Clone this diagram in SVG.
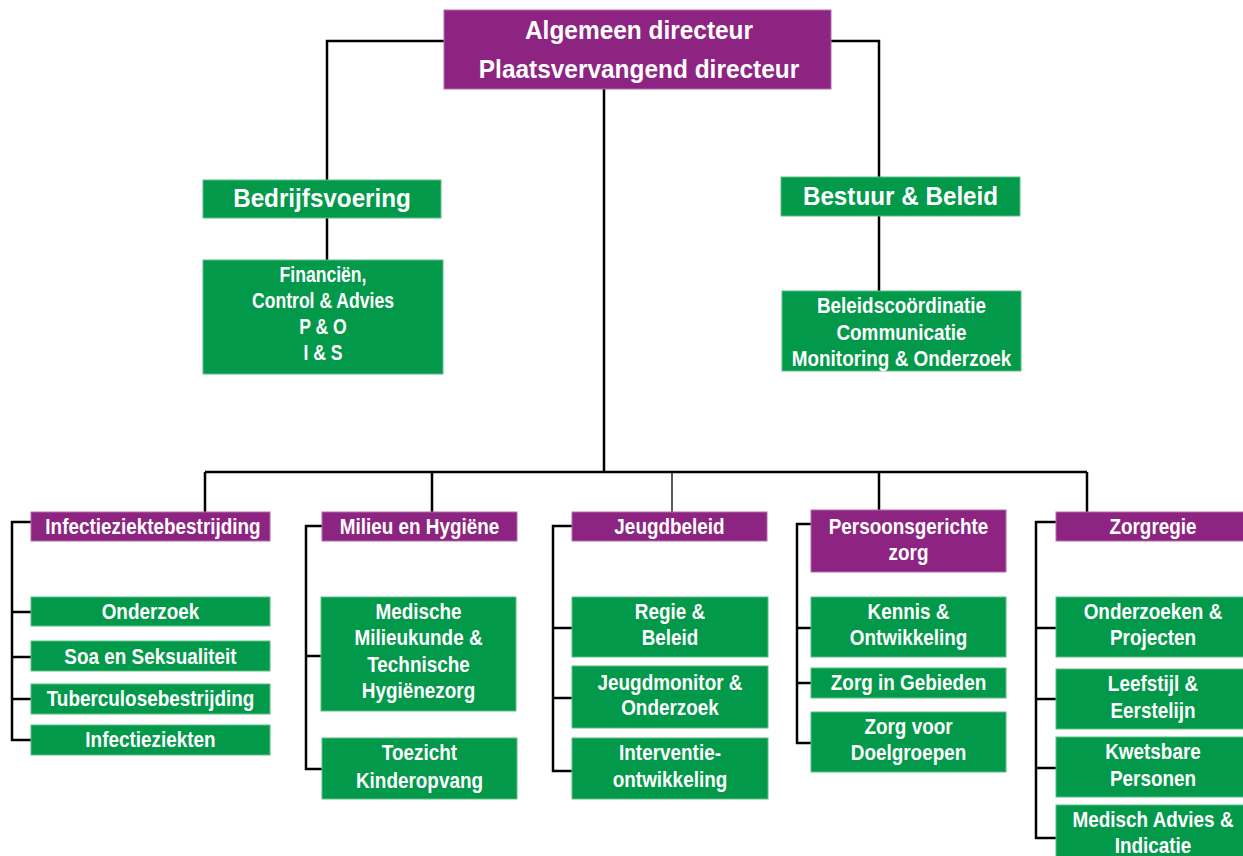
<svg xmlns="http://www.w3.org/2000/svg" width="1243" height="856" viewBox="0 0 1243 856">
<style>
.p{fill:#8E2481;stroke:#B36BAA;stroke-width:1}
.g{fill:#02994A;stroke:#5DBE86;stroke-width:1}
text{fill:#fff;font-weight:bold;text-anchor:middle;font-family:"Liberation Sans",Arial,sans-serif}
.big{font-size:26px}
.mid{font-size:25px}
.sm{font-size:22px}
.c{fill:none;stroke:#000;stroke-width:2.5}
.t{fill:none;stroke:#000;stroke-width:1.3}
</style>
<rect width="1243" height="856" fill="#fff"/>
<g id="connectors">
<path class="c" d="M444 41H327V180M831 41H879V177M327 218V260M879 216V291M604 89V472M205 472H1087M205 472V512M432 472V512M879 472V510M1087 472V512"/>
<path class="t" d="M672 472V512"/>
<path class="c" d="M31 522H12V740H31M12 612H31M12 657H31M12 699H31"/>
<path class="c" d="M322 526H306V769H322M306 656H321"/>
<path class="c" d="M572 526H553V771H572M553 628H572M553 698H572"/>
<path class="c" d="M811 524H797V743H811M797 628H811M797 683H811"/>
<path class="c" d="M1056 522H1036V838H1056M1036 628H1056M1036 699H1056M1036 768H1056"/>
</g>
<g id="n-top"><rect class="p" x="444" y="10" width="387" height="79"/><text class="big" transform="translate(639 0) scale(.94 1)" y="39">Algemeen directeur</text><text class="big" transform="translate(639 0) scale(.94 1)" y="78">Plaatsvervangend directeur</text></g>
<g id="n-bedrijf"><rect class="g" x="203" y="180" width="238" height="38"/><text class="mid" transform="translate(322 0) scale(.97 1)" y="207">Bedrijfsvoering</text></g>
<g id="n-bestuur"><rect class="g" x="781" y="177" width="239" height="39"/><text class="mid" transform="translate(900.5 0) scale(.97 1)" y="205">Bestuur &amp; Beleid</text></g>
<g id="n-fin"><rect class="g" x="203" y="260" width="240" height="114"/>
<g transform="translate(323 0) scale(.8 1)"><text class="sm" y="282">Financiën,</text><text class="sm" y="308">Control &amp; Advies</text><text class="sm" y="334">P &amp; O</text><text class="sm" y="360">I &amp; S</text></g></g>
<g id="n-beleids"><rect class="g" x="782" y="291" width="239" height="80"/>
<g transform="translate(901.5 0) scale(.86 1)"><text class="sm" y="313">Beleidscoördinatie</text><text class="sm" y="340">Communicatie</text><text class="sm" y="366">Monitoring &amp; Onderzoek</text></g></g>
<g id="n-infectie"><rect class="p" x="31" y="512" width="239" height="29"/><text class="sm" transform="translate(153 0) scale(.86 1)" y="534">Infectieziektebestrijding</text></g>
<g id="n-onderzoek"><rect class="g" x="31" y="597" width="239" height="29"/><text class="sm" transform="translate(150.5 0) scale(.86 1)" y="619">Onderzoek</text></g>
<g id="n-soa"><rect class="g" x="31" y="641" width="239" height="30"/><text class="sm" transform="translate(150.5 0) scale(.86 1)" y="664">Soa en Seksualiteit</text></g>
<g id="n-tbc"><rect class="g" x="31" y="684" width="239" height="30"/><text class="sm" transform="translate(150.5 0) scale(.86 1)" y="706">Tuberculosebestrijding</text></g>
<g id="n-inf"><rect class="g" x="31" y="725" width="239" height="30"/><text class="sm" transform="translate(150.5 0) scale(.86 1)" y="747">Infectieziekten</text></g>
<g id="n-milieu"><rect class="p" x="322" y="512" width="195" height="29"/><text class="sm" transform="translate(419.5 0) scale(.86 1)" y="534">Milieu en Hygiëne</text></g>
<g id="n-medische"><rect class="g" x="321" y="597" width="195" height="114"/>
<g transform="translate(418.5 0) scale(.86 1)"><text class="sm" y="619">Medische</text><text class="sm" y="645">Milieukunde &amp;</text><text class="sm" y="672">Technische</text><text class="sm" y="698">Hygiënezorg</text></g></g>
<g id="n-toezicht"><rect class="g" x="322" y="738" width="195" height="61"/>
<g transform="translate(419.5 0) scale(.86 1)"><text class="sm" y="760">Toezicht</text><text class="sm" y="788">Kinderopvang</text></g></g>
<g id="n-jeugd"><rect class="p" x="572" y="512" width="195" height="29"/><text class="sm" transform="translate(669.5 0) scale(.86 1)" y="534">Jeugdbeleid</text></g>
<g id="n-regie"><rect class="g" x="572" y="597" width="196" height="60"/>
<g transform="translate(670 0) scale(.86 1)"><text class="sm" y="619">Regie &amp;</text><text class="sm" y="645">Beleid</text></g></g>
<g id="n-jeugdmonitor"><rect class="g" x="572" y="666" width="196" height="62"/>
<g transform="translate(670 0) scale(.86 1)"><text class="sm" y="690">Jeugdmonitor &amp;</text><text class="sm" y="715">Onderzoek</text></g></g>
<g id="n-interventie"><rect class="g" x="572" y="738" width="196" height="61"/>
<g transform="translate(670 0) scale(.86 1)"><text class="sm" y="760">Interventie-</text><text class="sm" y="787">ontwikkeling</text></g></g>
<g id="n-persoons"><rect class="p" x="811" y="510" width="195" height="62"/>
<g transform="translate(908.5 0) scale(.86 1)"><text class="sm" y="534">Persoonsgerichte</text><text class="sm" y="560">zorg</text></g></g>
<g id="n-kennis"><rect class="g" x="811" y="597" width="195" height="60"/>
<g transform="translate(908.5 0) scale(.86 1)"><text class="sm" y="619">Kennis &amp;</text><text class="sm" y="645">Ontwikkeling</text></g></g>
<g id="n-gebieden"><rect class="g" x="811" y="668" width="195" height="30"/><text class="sm" transform="translate(908.5 0) scale(.86 1)" y="690">Zorg in Gebieden</text></g>
<g id="n-doelgroepen"><rect class="g" x="811" y="712" width="195" height="60"/>
<g transform="translate(908.5 0) scale(.86 1)"><text class="sm" y="734">Zorg voor</text><text class="sm" y="760">Doelgroepen</text></g></g>
<g id="n-zorgregie"><rect class="p" x="1056" y="512" width="194" height="29"/><text class="sm" transform="translate(1153 0) scale(.86 1)" y="534">Zorgregie</text></g>
<g id="n-onderzoeken"><rect class="g" x="1056" y="597" width="194" height="60"/>
<g transform="translate(1153 0) scale(.86 1)"><text class="sm" y="619">Onderzoeken &amp;</text><text class="sm" y="645">Projecten</text></g></g>
<g id="n-leefstijl"><rect class="g" x="1056" y="669" width="194" height="60"/>
<g transform="translate(1153 0) scale(.86 1)"><text class="sm" y="691">Leefstijl &amp;</text><text class="sm" y="718">Eerstelijn</text></g></g>
<g id="n-kwetsbare"><rect class="g" x="1056" y="737" width="194" height="60"/>
<g transform="translate(1153 0) scale(.86 1)"><text class="sm" y="759">Kwetsbare</text><text class="sm" y="786">Personen</text></g></g>
<g id="n-medisch"><rect class="g" x="1056" y="805" width="194" height="60"/>
<g transform="translate(1153 0) scale(.86 1)"><text class="sm" y="827">Medisch Advies &amp;</text><text class="sm" y="853">Indicatie</text></g></g>
</svg>
